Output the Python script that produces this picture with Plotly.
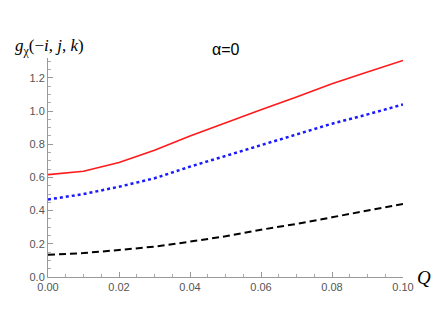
import plotly.graph_objects as go

Q = [0.00, 0.01, 0.02, 0.03, 0.04, 0.05, 0.06, 0.07, 0.08, 0.09, 0.10]
red_vals = [0.617, 0.637, 0.690, 0.764, 0.850, 0.930, 1.008, 1.085, 1.165, 1.235, 1.305]
blue_vals = [0.467, 0.500, 0.544, 0.595, 0.665, 0.730, 0.795, 0.860, 0.924, 0.980, 1.040]
black_vals = [0.134, 0.144, 0.163, 0.183, 0.213, 0.245, 0.285, 0.320, 0.360, 0.400, 0.440]

fig = go.Figure()
fig.add_trace(go.Scatter(x=Q, y=black_vals, mode="lines",
                         line=dict(color="black", width=2, dash="7px,4px")))
fig.add_trace(go.Scatter(x=Q, y=blue_vals, mode="lines",
                         line=dict(color="#1a1aff", width=2.5, dash="3px,3px")))
fig.add_trace(go.Scatter(x=Q, y=red_vals, mode="lines",
                         line=dict(color="#ff1a1a", width=1.6)))

tickfont = dict(family="Liberation Sans, Arial, sans-serif", size=11, color="#555555")
fig.update_layout(
    width=445, height=334,
    margin=dict(l=40, r=50, t=50, b=65),
    paper_bgcolor="white", plot_bgcolor="white",
    showlegend=False,
    xaxis=dict(range=[0, 0.1], showgrid=False, zeroline=False,
               showline=True, linecolor="#999999", linewidth=1,
               ticks="inside", ticklen=5, tickcolor="#999999",
               dtick=0.02, tick0=0, tickformat=".2f", tickfont=tickfont,
               minor=dict(ticks="inside", dtick=0.005, ticklen=3, tickcolor="#aaaaaa")),
    yaxis=dict(range=[0, 1.32], showgrid=False, zeroline=False,
               showline=True, linecolor="#999999", linewidth=1,
               ticks="inside", ticklen=5, tickcolor="#999999",
               dtick=0.2, tick0=0, tickformat=".1f", tickfont=tickfont,
               minor=dict(ticks="inside", dtick=0.05, ticklen=3, tickcolor="#aaaaaa")),
    annotations=[
        dict(text="α=0", xref="paper", yref="paper", x=0.5, y=1.037,
             xanchor="center", yanchor="middle", showarrow=False,
             font=dict(family="Liberation Sans, Arial, sans-serif", size=16, color="black")),
        dict(text="<i>g</i><sub>χ</sub>(−<i>i</i>, <i>j</i>, <i>k</i>)",
             xref="paper", yref="paper", x=-0.099, y=1.05, xanchor="left", yanchor="middle",
             showarrow=False,
             font=dict(family="Liberation Serif, DejaVu Serif, serif", size=17, color="black")),
        dict(text="<i>Q</i>", xref="paper", yref="paper", x=1.035, y=0.0,
             xanchor="left", yanchor="middle", showarrow=False,
             font=dict(family="Liberation Serif, DejaVu Serif, serif", size=19, color="black")),
    ],
)

fig.write_html("out.html")
